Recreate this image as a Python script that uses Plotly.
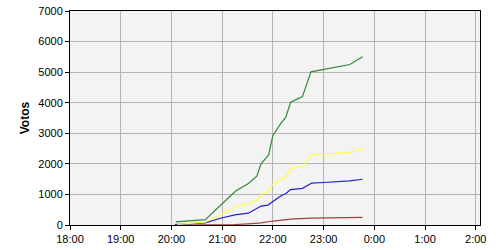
import plotly.graph_objects as go

# times (HH:MM, after midnight wraps to next day)
green_t = ["20:05","20:40","21:16","21:31","21:41","21:46","21:55","22:00","22:10","22:15","22:21","22:35","22:45","23:31","23:46"]
green_v = [100,175,1110,1360,1600,2000,2290,2930,3350,3510,4016,4200,5010,5250,5500]

yellow_t = ["20:07","20:40","20:59","21:15","21:31","21:41","21:47","21:53","22:00","22:16","22:21","22:35","22:46","23:00","23:31","23:47"]
yellow_v = [20,90,333,597,705,810,1022,1073,1340,1603,1848,1920,2292,2324,2365,2500]

blue_t = ["20:04","20:40","20:59","21:15","21:31","21:46","21:54","22:00","22:10","22:15","22:21","22:35","22:46","23:00","23:31","23:46"]
blue_v = [15,70,228,333,387,619,651,778,968,1022,1159,1200,1371,1390,1444,1497]

red_t = ["20:05","20:40","21:15","21:31","21:46","22:00","22:21","22:46","23:00","23:46"]
red_v = [0,5,15,40,70,130,190,225,235,250]

tick_labels = ["18:00","19:00","20:00","21:00","22:00","23:00","0:00","1:00","2:00"]


def to_dt(t):
    h, m = map(int, t.split(":"))
    day = "2000-01-01" if h >= 12 else "2000-01-02"
    return f"{day} {h:02d}:{m:02d}"

tick_vals = [to_dt(t) for t in tick_labels]

fig = go.Figure()
for t, v, c in [(red_t, red_v, "#a04040"), (blue_t, blue_v, "#2020d0"),
                (yellow_t, yellow_v, "#ffff40"), (green_t, green_v, "#2f8a3a")]:
    fig.add_trace(go.Scatter(x=[to_dt(s) for s in t], y=v, mode="lines",
                             line=dict(color=c, width=1.2), showlegend=False))

axis_common = dict(showline=True, linecolor="black", linewidth=1, mirror=True,
                   showgrid=True, gridcolor="#b4b4b4", gridwidth=1,
                   ticks="outside", ticklen=4, tickcolor="black", zeroline=False,
                   ticklabeloverflow="allow",
                   tickfont=dict(family="Liberation Sans, Arial", size=11, color="black"))

fig.update_layout(
    width=500, height=250,
    margin=dict(l=70, r=20, t=5, b=25),
    paper_bgcolor="white", plot_bgcolor="#f3f3f3",
    xaxis=dict(type="date", range=[to_dt("18:00"), "2000-01-02 02:05"],
               tickvals=tick_vals, ticktext=tick_labels, **axis_common),
    yaxis=dict(range=[0, 7000], tickvals=list(range(0, 7001, 1000)),
               title=dict(text="<b>Votos</b>", font=dict(family="Liberation Sans, Arial", size=12, color="black"), standoff=6),
               **axis_common),
)
fig.write_html("out.html")
